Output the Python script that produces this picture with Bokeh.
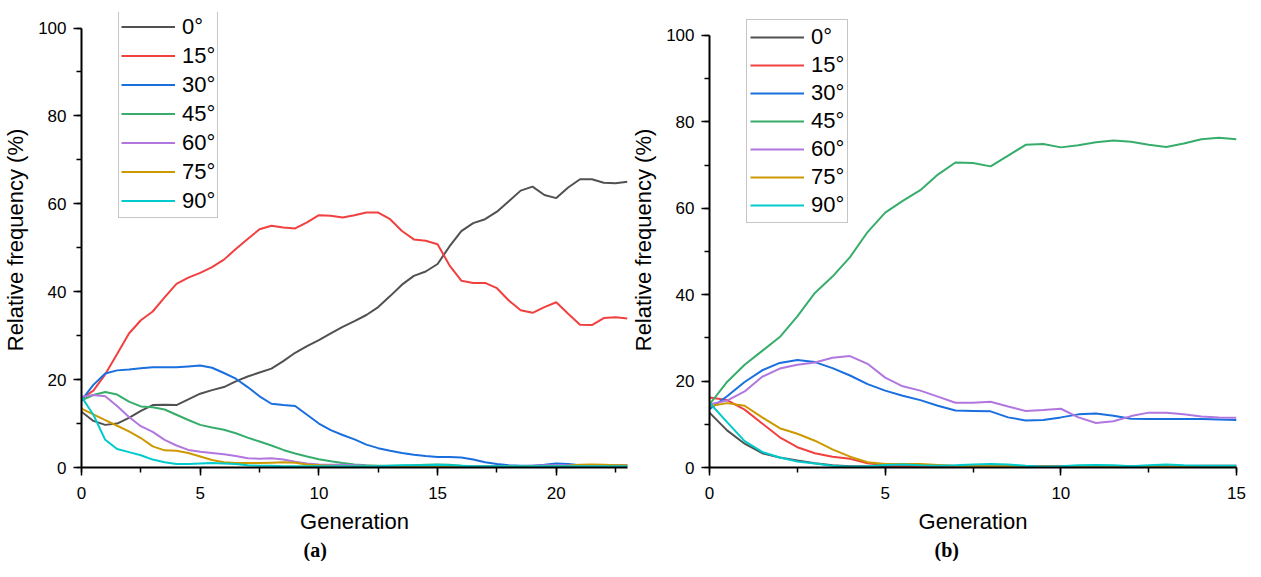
from bokeh.plotting import figure
from bokeh.models import Range1d, SingleIntervalTicker, Legend, LegendItem, Title
from bokeh.layouts import row
from bokeh.embed import file_html
from bokeh.resources import INLINE

angles = ["0°", "15°", "30°", "45°", "60°", "75°", "90°"]
colors = ["#515151", "#F14040", "#1A6FDF", "#37AD6B", "#B177DE", "#CC9900", "#00CBCC"]
captions = ["(a)", "(b)"]

# ---- panel (a) ----
gen_a = [0, 0.5, 1, 1.5, 2, 2.5, 3, 3.5, 4, 4.5, 5, 5.5, 6, 6.5, 7, 7.5, 8, 8.5, 9, 9.5,
         10, 10.5, 11, 11.5, 12, 12.5, 13, 13.5, 14, 14.5, 15, 15.5, 16, 16.5, 17, 17.5,
         18, 18.5, 19, 19.5, 20, 20.5, 21, 21.5, 22, 22.5, 23]
a_0 = [12.7, 10.6, 9.7, 10.0, 11.3, 12.9, 14.2, 14.3, 14.2, 15.5, 16.8, 17.6, 18.3, 19.6, 20.7, 21.6,
       22.5, 24.2, 26.1, 27.6, 29.0, 30.5, 32.0, 33.3, 34.7, 36.5, 39.0, 41.6, 43.6, 44.6, 46.3, 50.3,
       53.8, 55.6, 56.5, 58.2, 60.6, 63.0, 63.9, 62.0, 61.3, 63.7, 65.6, 65.6, 64.8, 64.7, 65.0]
a_15 = [15.7, 17.5, 21.2, 25.8, 30.5, 33.5, 35.5, 38.7, 41.8, 43.2, 44.3, 45.6, 47.3, 49.7, 52.0, 54.2,
        55.0, 54.6, 54.4, 55.8, 57.4, 57.3, 56.9, 57.4, 58.0, 58.0, 56.5, 53.8, 51.9, 51.6, 50.8, 46.0,
        42.5, 42.0, 42.0, 40.8, 38.0, 35.8, 35.2, 36.5, 37.6, 35.0, 32.5, 32.4, 34.0, 34.2, 33.9]
a_30 = [15.3, 18.8, 21.4, 22.1, 22.3, 22.6, 22.8, 22.8, 22.8, 23.0, 23.2, 22.7, 21.5, 20.2, 18.3, 16.2,
        14.5, 14.2, 14.0, 12.0, 10.0, 8.5, 7.4, 6.4, 5.2, 4.4, 3.8, 3.3, 2.9, 2.6, 2.4, 2.4,
        2.3, 1.8, 1.2, 0.8, 0.5, 0.4, 0.4, 0.6, 0.9, 0.8, 0.5, 0.5, 0.5, 0.5, 0.5]
a_45 = [15.3, 16.5, 17.2, 16.6, 15.0, 13.9, 13.7, 13.2, 12.0, 10.8, 9.7, 9.1, 8.6, 7.8, 6.8, 5.9,
        5.0, 4.0, 3.2, 2.5, 1.9, 1.4, 1.0, 0.7, 0.5, 0.4, 0.4, 0.4, 0.5, 0.6, 0.7, 0.6,
        0.4, 0.3, 0.3, 0.3, 0.3, 0.3, 0.3, 0.3, 0.3, 0.3, 0.3, 0.3, 0.3, 0.3, 0.3]
a_60 = [16.1, 16.5, 16.2, 14.0, 11.5, 9.4, 8.1, 6.3, 5.0, 4.0, 3.6, 3.3, 3.0, 2.6, 2.1, 2.0,
        2.1, 1.8, 1.3, 0.9, 0.7, 0.6, 0.6, 0.5, 0.4, 0.3, 0.3, 0.3, 0.3, 0.3, 0.3, 0.3,
        0.3, 0.3, 0.3, 0.3, 0.3, 0.3, 0.4, 0.5, 0.5, 0.5, 0.5, 0.5, 0.5, 0.5, 0.5]
a_75 = [13.4, 12.1, 10.8, 9.5, 8.2, 6.7, 4.8, 3.9, 3.8, 3.3, 2.5, 1.7, 1.2, 1.0, 1.0, 1.0,
        1.1, 1.2, 1.1, 0.7, 0.5, 0.4, 0.3, 0.3, 0.3, 0.2, 0.2, 0.2, 0.2, 0.2, 0.2, 0.2,
        0.2, 0.2, 0.2, 0.2, 0.2, 0.3, 0.3, 0.3, 0.3, 0.4, 0.6, 0.7, 0.6, 0.5, 0.5]
a_90 = [16.1, 12.0, 6.3, 4.2, 3.5, 2.8, 1.8, 1.2, 0.8, 0.8, 0.9, 1.0, 0.9, 0.8, 0.5, 0.4,
        0.4, 0.3, 0.3, 0.3, 0.3, 0.3, 0.3, 0.3, 0.3, 0.3, 0.4, 0.5, 0.5, 0.5, 0.6, 0.5,
        0.4, 0.3, 0.3, 0.3, 0.3, 0.3, 0.3, 0.3, 0.3, 0.3, 0.3, 0.3, 0.3, 0.3, 0.3]

# ---- panel (b) ----
gen_b = [0, 0.5, 1, 1.5, 2, 2.5, 3, 3.5, 4, 4.5, 5, 5.5, 6, 6.5, 7, 7.5, 8, 8.5, 9, 9.5,
         10, 10.5, 11, 11.5, 12, 12.5, 13, 13.5, 14, 14.5, 15]
b_0 = [12.7, 8.6, 5.5, 3.3, 2.3, 1.6, 1.0, 0.5, 0.3, 0.3, 0.3, 0.4, 0.5, 0.4, 0.3, 0.3,
       0.3, 0.3, 0.3, 0.3, 0.3, 0.3, 0.3, 0.3, 0.3, 0.3, 0.3, 0.3, 0.4, 0.4, 0.4]
b_15 = [16.2, 15.6, 13.4, 10.2, 7.0, 4.7, 3.3, 2.5, 2.0, 1.0, 0.5, 0.3, 0.2, 0.2, 0.2, 0.2,
        0.2, 0.2, 0.2, 0.2, 0.2, 0.2, 0.2, 0.2, 0.2, 0.2, 0.2, 0.2, 0.2, 0.2, 0.2]
b_30 = [13.5, 16.5, 19.8, 22.5, 24.2, 24.9, 24.4, 23.0, 21.3, 19.3, 17.8, 16.6, 15.6, 14.3, 13.2, 13.1,
        13.0, 11.6, 10.9, 11.0, 11.6, 12.3, 12.5, 12.0, 11.3, 11.2, 11.2, 11.2, 11.2, 11.1, 11.0]
b_45 = [14.6, 19.8, 23.8, 27.0, 30.2, 35.0, 40.4, 44.2, 48.7, 54.5, 59.0, 61.7, 64.2, 67.8, 70.6, 70.5,
        69.7, 72.2, 74.7, 74.9, 74.1, 74.6, 75.3, 75.7, 75.4, 74.7, 74.2, 75.0, 76.0, 76.3, 76.0]
b_60 = [14.6, 15.5, 17.6, 21.0, 22.9, 23.8, 24.3, 25.4, 25.8, 24.0, 20.8, 18.8, 17.8, 16.4, 15.0, 15.0,
        15.2, 14.1, 13.1, 13.3, 13.6, 11.6, 10.3, 10.7, 11.9, 12.7, 12.7, 12.3, 11.8, 11.6, 11.5]
b_75 = [14.2, 14.9, 14.3, 11.6, 9.1, 7.8, 6.2, 4.2, 2.5, 1.2, 0.8, 0.8, 0.8, 0.6, 0.4, 0.3,
        0.3, 0.3, 0.2, 0.2, 0.2, 0.2, 0.2, 0.2, 0.2, 0.2, 0.2, 0.2, 0.2, 0.2, 0.2]
b_90 = [15.0, 10.5, 6.1, 3.6, 2.3, 1.4, 0.9, 0.4, 0.2, 0.3, 0.6, 0.7, 0.5, 0.4, 0.5, 0.7,
        0.8, 0.7, 0.4, 0.2, 0.3, 0.5, 0.6, 0.5, 0.3, 0.5, 0.7, 0.5, 0.4, 0.4, 0.4]

SANS = "Liberation Sans"
SERIF = "Liberation Serif"

FRAME_H = 455
TOP = 12
PANEL_H = 561


def make_panel(gen, series, xmax, ytop, fw, bl, br, leg_loc, leg_h, leg_pad, caption, cap_off):
    p = figure(frame_width=fw, frame_height=FRAME_H,
               x_range=Range1d(0, xmax), y_range=Range1d(0, ytop),
               min_border_left=bl, min_border_right=br,
               min_border_top=TOP, min_border_bottom=PANEL_H - TOP - FRAME_H,
               output_backend="svg", toolbar_location=None)
    p.outline_line_color = None
    p.xgrid.visible = False
    p.ygrid.visible = False
    p.background_fill_color = "white"
    p.border_fill_color = "white"

    p.xaxis.ticker = SingleIntervalTicker(interval=5, num_minor_ticks=2)
    p.yaxis.ticker = SingleIntervalTicker(interval=20, num_minor_ticks=2)
    p.yaxis.bounds = (0, 100)
    for ax in (p.xaxis, p.yaxis):
        ax.axis_line_color = "black"
        ax.axis_line_width = 2
        ax.major_tick_line_color = "black"
        ax.minor_tick_line_color = "black"
        ax.major_tick_line_width = 1.5
        ax.minor_tick_line_width = 1.5
        ax.major_tick_out = 8
        ax.major_tick_in = 0
        ax.minor_tick_out = 5
        ax.minor_tick_in = 0
        ax.major_label_text_font = SANS
        ax.major_label_text_font_size = "17px"
        ax.major_label_text_color = "black"
        ax.axis_label_text_font = SANS
        ax.axis_label_text_font_size = "22px"
        ax.axis_label_text_font_style = "normal"
        ax.axis_label_text_color = "black"
    p.xaxis.major_label_standoff = 11
    p.yaxis.major_label_standoff = 7
    p.xaxis.axis_label = "Generation"
    p.yaxis.axis_label = "Relative frequency (%)"
    p.xaxis.axis_label_standoff = 7
    p.yaxis.axis_label_standoff = 7

    items = []
    for name, vals, col in zip(angles, series, colors):
        r = p.line(gen, vals, line_width=2, line_color=col)
        items.append(LegendItem(label=name, renderers=[r]))

    leg = Legend(items=items, location=leg_loc,
                 label_text_font=SANS, label_text_font_size="22px",
                 label_text_color="black",
                 glyph_width=54, glyph_height=leg_h, label_height=leg_h,
                 spacing=0, padding=leg_pad, margin=0, label_standoff=7,
                 border_line_color="#8c8c8c", border_line_width=1,
                 background_fill_color="white", background_fill_alpha=1.0)
    p.add_layout(leg)

    cap = Title(text=caption, align="left", offset=cap_off, standoff=0,
                text_font=SERIF, text_font_size="20px", text_font_style="bold",
                text_color="black")
    p.add_layout(cap, "below")
    return p


pa = make_panel(gen_a, [a_0, a_15, a_30, a_45, a_60, a_75, a_90], 23, 103.53,
                546, 81, 1, (37, 249), 29, 2, captions[0], 222)
pb = make_panel(gen_b, [b_0, b_15, b_30, b_45, b_60, b_75, b_90], 15, 105.32,
                527, 80, 10, (37, 244), 28, 3, captions[1], 225)

layout = row(pa, pb)
open("out.html", "w").write(file_html(layout, INLINE))
